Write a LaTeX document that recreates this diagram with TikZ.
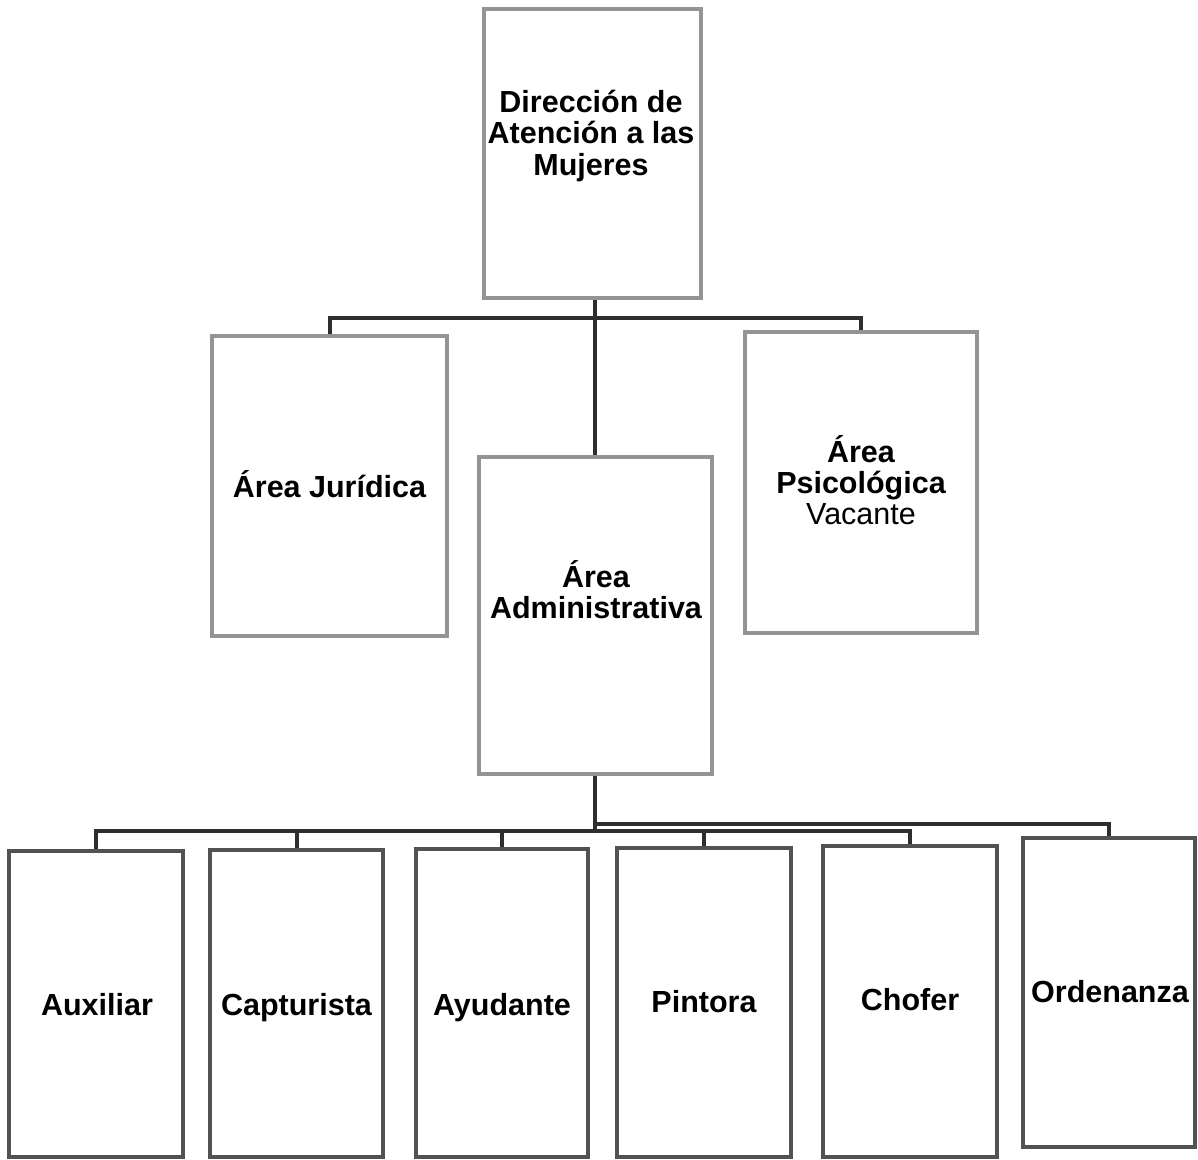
\documentclass[tikz,border=0pt]{standalone}
\usepackage{fontspec}
\setmainfont{Liberation Sans}
\begin{document}
\begin{tikzpicture}[x=1pt,y=-1pt,
  upbox/.style={draw=black!42,line width=4pt,fill=white,inner sep=0pt},
  lowbox/.style={draw=black!68,line width=4.5pt,fill=white,inner sep=0pt},
  conn/.style={draw=black!82,line width=4pt},
  lbl/.style={inner sep=0pt,font=\fontsize{30.5}{31}\selectfont\bfseries,anchor=base}]
\useasboundingbox[fill=white] (0,0) rectangle (1198,1159);
\renewcommand\arraystretch{1}
\setlength\tabcolsep{0pt}
% boxes
\node[upbox,minimum width=217pt,minimum height=289pt] (dir) at (592.5,153.5) {};
\node[upbox,minimum width=235pt,minimum height=300pt] (jur) at (329.5,486) {};
\node[upbox,minimum width=233pt,minimum height=317pt] (adm) at (595,615.5) {};
\node[upbox,minimum width=232pt,minimum height=301pt] (psi) at (861,482.5) {};
\node[lowbox,minimum width=174pt,minimum height=306pt] (aux) at (96,1004) {};
\node[lowbox,minimum width=173pt,minimum height=307pt] (cap) at (296.5,1003.5) {};
\node[lowbox,minimum width=172pt,minimum height=308pt] (ayu) at (502,1003) {};
\node[lowbox,minimum width=174pt,minimum height=309pt] (pin) at (704,1002.5) {};
\node[lowbox,minimum width=174pt,minimum height=311pt] (cho) at (910,1001.5) {};
\node[lowbox,minimum width=172pt,minimum height=309pt] (ord) at (1109,992.5) {};
% labels
\node[lbl] (dirt) at (591,112) {\begin{tabular}[t]{c}Dirección de\\Atención a las\\Mujeres\end{tabular}};
\node[lbl] (jurt) at (329.5,497) {Área Jurídica};
\node[lbl] (admt) at (596,587) {\begin{tabular}[t]{c}Área\\Administrativa\end{tabular}};
\node[lbl] (psit) at (861,462) {\begin{tabular}[t]{c}Área\\Psicológica\\\mdseries Vacante\end{tabular}};
\node[lbl] (auxt) at (97,1015) {Auxiliar};
\node[lbl] (capt) at (296.5,1015) {Capturista};
\node[lbl] (ayut) at (502,1015) {Ayudante};
\node[lbl] (pint) at (704,1012) {Pintora};
\node[lbl] (chot) at (910,1010) {Chofer};
\node[lbl] (ordt) at (1110,1002) {Ordenanza};
% connectors
\coordinate (bus1) at (595,318);
\coordinate (bus2) at (595,831);
\coordinate (bus3) at (595,824);
\draw[conn] (dir.south -| bus1) -- (adm.north -| bus1);
\draw[conn] (jur.north) -- (jur.north |- bus1) -- (psi.north |- bus1) -- (psi.north);
\draw[conn] (adm.south -| bus2) -- (bus2);
\draw[conn] (aux.north) -- (aux.north |- bus2) -- (cho.north |- bus2) -- (cho.north);
\draw[conn] (cap.north) -- (cap.north |- bus2);
\draw[conn] (ayu.north) -- (ayu.north |- bus2);
\draw[conn] (pin.north) -- (pin.north |- bus2);
\draw[conn] (bus3) -- (ord.north |- bus3) -- (ord.north);
\end{tikzpicture}
\end{document}
